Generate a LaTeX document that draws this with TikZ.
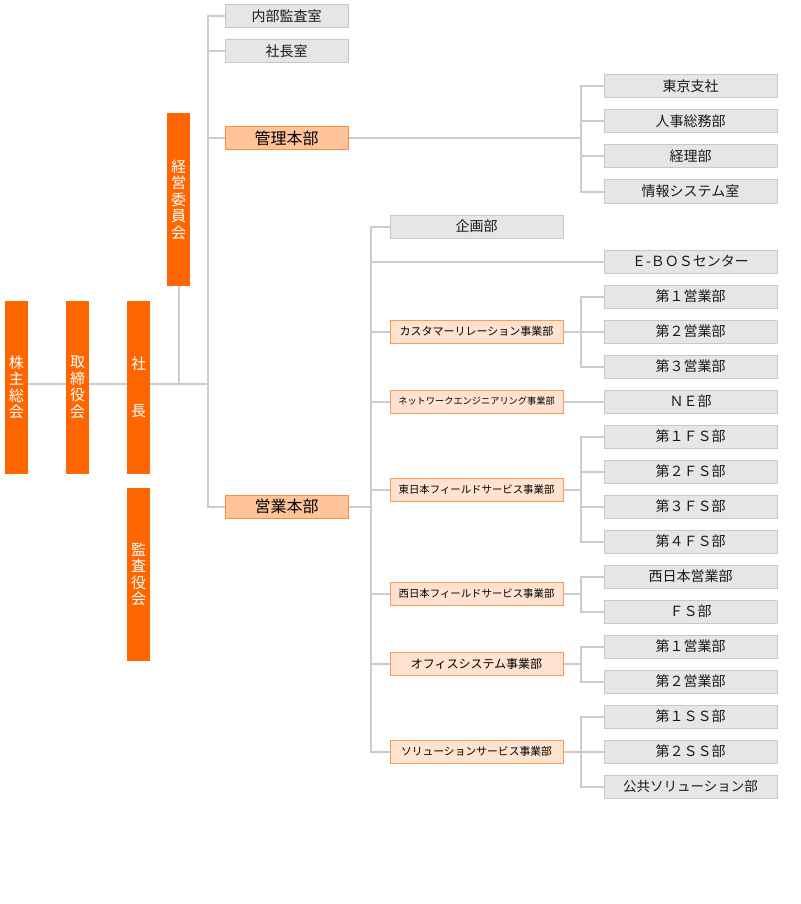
\documentclass[tikz,border=0pt]{standalone}
\usepackage{fontspec}
\setmainfont{Noto Sans CJK JP}
\definecolor{org}{HTML}{FF6600}
\definecolor{gfill}{HTML}{E6E6E6}
\definecolor{gline}{HTML}{C8C8C8}
\definecolor{conncol}{HTML}{CCCCCC}
\definecolor{sfill}{HTML}{FFE2CF}
\definecolor{sline}{HTML}{FF9A50}
\definecolor{mfill}{HTML}{FFC499}
\definecolor{mline}{HTML}{FF8A3A}
\tikzset{
  vbox/.style={fill=org, minimum width=23pt, minimum height=173pt, inner sep=0pt, text=white, align=center, font=\fontsize{15}{16.5}\selectfont},
  gbox/.style={draw=gline, fill=gfill, line width=1pt, minimum width=173pt, minimum height=23pt, inner sep=0pt, font=\fontsize{14}{16}\selectfont, text=black!90},
  gboxs/.style={gbox, minimum width=123pt},
  mbox/.style={draw=mline, fill=mfill, line width=1pt, minimum width=123pt, minimum height=23pt, inner sep=0pt, font=\fontsize{16}{18}\selectfont},
  sbox/.style={draw=sline, fill=sfill, line width=1pt, minimum width=173pt, minimum height=23pt, inner sep=0pt, font=\fontsize{11}{13}\selectfont},
  conn/.style={draw=conncol, line width=2pt}
}
\begin{document}
\begin{tikzpicture}[x=1pt,y=-1pt]
\useasboundingbox (0,0) rectangle (800,904);
% coordinates for trunks
\coordinate (hl) at (0,383.5);
\coordinate (tx) at (207.5,0);
\coordinate (ex) at (371,0);
\coordinate (kx) at (580.5,0);

% vertical orange boxes
\node[vbox] (kabu) at (16.5,387.5) {株\\主\\総\\会};
\node[vbox] (tori) at (77.5,387.5) {取\\締\\役\\会};
\node[vbox] (shacho) at (138.5,387.5) {社\\[31pt]長};
\node[vbox] (keiei) at (178.5,199.5) {経\\営\\委\\員\\会};
\node[vbox] (kansayaku) at (138.5,574.5) {監\\査\\役\\会};

% left column
\node[gboxs] (naibu) at (286.5,16.5) {内部監査室};
\node[gboxs] (shachoshitsu) at (286.5,51.5) {社長室};
\node[mbox] (kanri) at (286.5,138.5) {管理本部};
\node[mbox] (eigyo) at (286.5,506.5) {営業本部};

% middle column
\node[gbox] (kikaku) at (476.5,226.5) {企画部};
\node[sbox] (cust) at (476.5,331.5) {カスタマーリレーション事業部};
\node[sbox, font=\fontsize{9.2}{11}\selectfont] (net) at (476.5,401.5) {ネットワークエンジニアリング事業部};
\node[sbox, font=\fontsize{10.4}{12}\selectfont] (higashi) at (476.5,489.5) {東日本フィールドサービス事業部};
\node[sbox, font=\fontsize{10.4}{12}\selectfont] (nishifs) at (476.5,593.5) {西日本フィールドサービス事業部};
\node[sbox, font=\fontsize{12}{14}\selectfont] (office) at (476.5,663.5) {オフィスシステム事業部};
\node[sbox, font=\fontsize{10.8}{12}\selectfont] (sol) at (476.5,751.5) {ソリューションサービス事業部};

% right column
\node[gbox] (tokyo) at (690.5,86.5) {東京支社};
\node[gbox] (jinji) at (690.5,121.5) {人事総務部};
\node[gbox] (keiri) at (690.5,156.5) {経理部};
\node[gbox] (joho) at (690.5,191.5) {情報システム室};
\node[gbox] (ebos) at (690.5,261.5) {Ｅ-ＢＯＳセンター};
\node[gbox] (da) at (690.5,296.5) {第１営業部};
\node[gbox] (db) at (690.5,331.5) {第２営業部};
\node[gbox] (dc) at (690.5,366.5) {第３営業部};
\node[gbox] (ne) at (690.5,401.5) {ＮＥ部};
\node[gbox] (fsa) at (690.5,436.5) {第１ＦＳ部};
\node[gbox] (fsb) at (690.5,471.5) {第２ＦＳ部};
\node[gbox] (fsc) at (690.5,506.5) {第３ＦＳ部};
\node[gbox] (fsd) at (690.5,541.5) {第４ＦＳ部};
\node[gbox] (nishi) at (690.5,576.5) {西日本営業部};
\node[gbox] (fs) at (690.5,611.5) {ＦＳ部};
\node[gbox] (oa) at (690.5,646.5) {第１営業部};
\node[gbox] (ob) at (690.5,681.5) {第２営業部};
\node[gbox] (ssa) at (690.5,716.5) {第１ＳＳ部};
\node[gbox] (ssb) at (690.5,751.5) {第２ＳＳ部};
\node[gbox, font=\fontsize{13.5}{15}\selectfont] (kokyo) at (690.5,786.5) {公共ソリューション部};

% connectors: main horizontal line
\draw[conn] (kabu.east |- hl) -- (tori.west |- hl);
\draw[conn] (tori.east |- hl) -- (shacho.west |- hl);
\draw[conn] (shacho.east |- hl) -- (tx |- hl);
\draw[conn] (keiei.south) -- (keiei.south |- hl);
% trunk
\draw[conn] (naibu.west) -- (naibu.west -| tx) -- (eigyo.west -| tx) -- (eigyo.west);
\draw[conn] (shachoshitsu.west) -- (shachoshitsu.west -| tx);
\draw[conn] (kanri.west) -- (kanri.west -| tx);

% kanri bracket
\draw[conn] (kanri.east) -- (kanri.east -| kx);
\draw[conn] (tokyo.west) -- (tokyo.west -| kx) -- (joho.west -| kx) -- (joho.west);
\draw[conn] (jinji.west) -- (jinji.west -| kx);
\draw[conn] (keiri.west) -- (keiri.west -| kx);

% eigyo trunk
\draw[conn] (eigyo.east) -- (eigyo.east -| ex);
\draw[conn] (kikaku.west) -- (kikaku.west -| ex) -- (sol.west -| ex) -- (sol.west);
\draw[conn] (ebos.west) -- (ebos.west -| ex);
\draw[conn] (cust.west) -- (cust.west -| ex);
\draw[conn] (net.west) -- (net.west -| ex);
\draw[conn] (higashi.west) -- (higashi.west -| ex);
\draw[conn] (nishifs.west) -- (nishifs.west -| ex);
\draw[conn] (office.west) -- (office.west -| ex);

% sub brackets
\draw[conn] (cust.east) -- (cust.east -| kx);
\draw[conn] (da.west) -- (da.west -| kx) -- (dc.west -| kx) -- (dc.west);
\draw[conn] (db.west) -- (db.west -| kx);

\draw[conn] (net.east) -- (ne.west);

\draw[conn] (higashi.east) -- (higashi.east -| kx);
\draw[conn] (fsa.west) -- (fsa.west -| kx) -- (fsd.west -| kx) -- (fsd.west);
\draw[conn] (fsb.west) -- (fsb.west -| kx);
\draw[conn] (fsc.west) -- (fsc.west -| kx);

\draw[conn] (nishifs.east) -- (nishifs.east -| kx);
\draw[conn] (nishi.west) -- (nishi.west -| kx) -- (fs.west -| kx) -- (fs.west);

\draw[conn] (office.east) -- (office.east -| kx);
\draw[conn] (oa.west) -- (oa.west -| kx) -- (ob.west -| kx) -- (ob.west);

\draw[conn] (sol.east) -- (sol.east -| kx);
\draw[conn] (ssa.west) -- (ssa.west -| kx) -- (kokyo.west -| kx) -- (kokyo.west);
\draw[conn] (ssb.west) -- (ssb.west -| kx);
\end{tikzpicture}
\end{document}
